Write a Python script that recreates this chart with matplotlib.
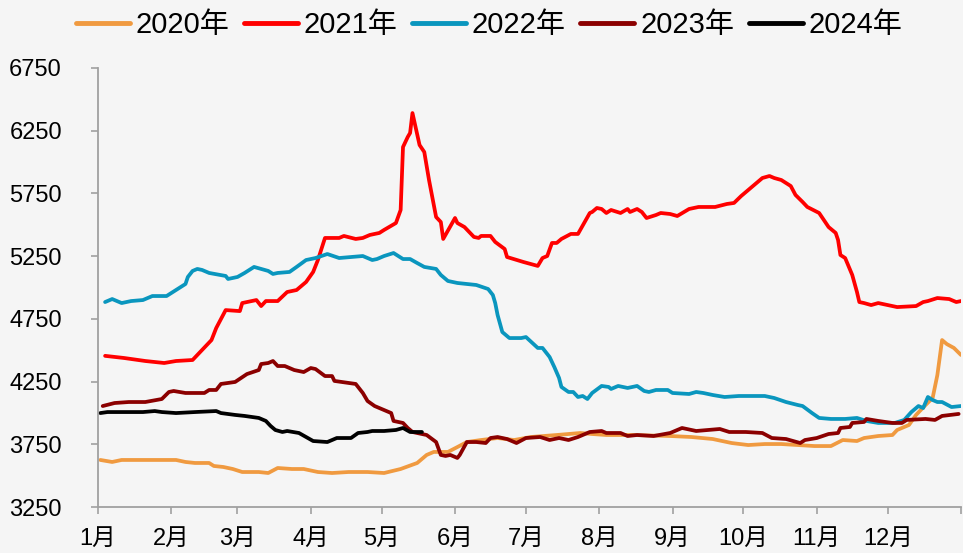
import matplotlib
matplotlib.use("Agg")
import matplotlib.pyplot as plt

plt.rcParams['font.family'] = ['Liberation Sans', 'Noto Sans CJK SC', 'DejaVu Sans']

# ---- data (day of year, price) ----
month_labels = ['1月', '2月', '3月', '4月', '5月', '6月', '7月', '8月', '9月', '10月', '11月', '12月']
month_starts = [0, 31, 59, 90, 120, 151, 181, 212, 243, 273, 304, 334, 365]
y_ticks = [3250, 3750, 4250, 4750, 5250, 5750, 6250, 6750]
series_names = ['2020年', '2021年', '2022年', '2023年', '2024年']

d20 = [1, 6, 10, 27, 33, 37, 41, 47, 49, 53, 57, 61, 68, 72, 76, 82, 87, 93, 99, 106,
       114, 121, 128, 135, 139, 142, 148, 152, 156, 162, 169, 176, 183, 194, 204, 209, 215, 226, 242, 251,
       260, 268, 275, 282, 289, 296, 303, 310, 315, 321, 324, 330, 336, 338, 343, 346, 350, 353, 355, 357,
       359, 362, 365]
v20 = [3625, 3609, 3625, 3625, 3625, 3609, 3601, 3601, 3577, 3569, 3553, 3529, 3529, 3521, 3561, 3553, 3553, 3529, 3521, 3529,
       3529, 3521, 3553, 3601, 3665, 3689, 3689, 3728, 3768, 3784, 3800, 3784, 3808, 3824, 3840, 3832, 3824, 3824, 3816, 3808,
       3792, 3760, 3744, 3752, 3752, 3744, 3736, 3736, 3784, 3776, 3800, 3816, 3824, 3864, 3904, 3984, 4063, 4119, 4302, 4581,
       4549, 4518, 4462]

d21 = [3, 11, 20, 28, 33, 40, 48, 50, 54, 60, 61, 67, 69, 71, 76, 80, 84, 88, 91, 93,
       96, 102, 104, 109, 112, 115, 119, 121, 126, 128, 129, 131, 132, 133, 136, 138, 140, 143, 145, 146,
       151, 152, 155, 159, 161, 162, 166, 168, 172, 173, 180, 186, 188, 190, 192, 194, 196, 200, 203, 208,
       209, 211, 213, 215, 217, 221, 224, 225, 228, 230, 232, 236, 238, 242, 245, 250, 254, 261, 266, 269,
       272, 281, 284, 286, 289, 293, 295, 298, 300, 305, 307, 309, 312, 313, 314, 316, 319, 321, 322, 324,
       327, 330, 338, 346, 349, 351, 355, 360, 363, 365]
v21 = [4455, 4438, 4414, 4398, 4414, 4422, 4581, 4677, 4820, 4812, 4876, 4900, 4852, 4892, 4892, 4964, 4980, 5044, 5124, 5219,
       5395, 5395, 5411, 5387, 5395, 5419, 5435, 5459, 5514, 5618, 6120, 6200, 6232, 6391, 6136, 6080, 5857, 5562, 5522, 5387,
       5554, 5514, 5482, 5403, 5395, 5411, 5411, 5363, 5307, 5243, 5203, 5172, 5235, 5251, 5355, 5355, 5387, 5427, 5427, 5594,
       5602, 5634, 5626, 5594, 5618, 5594, 5626, 5602, 5626, 5602, 5554, 5578, 5594, 5586, 5570, 5626, 5642, 5642, 5666, 5674,
       5729, 5873, 5889, 5873, 5857, 5809, 5738, 5682, 5642, 5594, 5538, 5482, 5435, 5379, 5259, 5235, 5100, 4964, 4884, 4876,
       4860, 4876, 4844, 4852, 4884, 4892, 4916, 4908, 4884, 4892]

d22 = [3, 6, 10, 14, 19, 23, 29, 37, 38, 40, 42, 44, 47, 54, 55, 59, 62, 66, 69, 72,
       74, 76, 81, 84, 88, 92, 97, 102, 107, 112, 116, 118, 121, 125, 129, 132, 135, 138, 143, 145,
       148, 152, 160, 165, 167, 168, 169, 171, 174, 179, 181, 186, 188, 191, 193, 195, 196, 199, 201, 203,
       205, 207, 209, 213, 216, 217, 220, 224, 228, 231, 233, 236, 241, 243, 250, 253, 256, 260, 265, 271,
       282, 286, 291, 296, 298, 302, 305, 310, 316, 321, 325, 330, 337, 341, 344, 347, 349, 351, 353, 355,
       357, 361, 365]
v22 = [4884, 4908, 4876, 4892, 4900, 4932, 4932, 5028, 5084, 5132, 5148, 5140, 5116, 5092, 5068, 5084, 5116, 5164, 5148, 5132,
       5108, 5116, 5124, 5164, 5219, 5235, 5267, 5235, 5243, 5251, 5219, 5227, 5251, 5275, 5227, 5227, 5195, 5164, 5148, 5100,
       5052, 5036, 5020, 4988, 4940, 4876, 4781, 4645, 4597, 4597, 4605, 4518, 4518, 4446, 4366, 4279, 4207, 4167, 4167, 4127,
       4135, 4111, 4159, 4215, 4207, 4191, 4215, 4199, 4215, 4175, 4167, 4183, 4183, 4159, 4151, 4167, 4159, 4143, 4127, 4135,
       4135, 4119, 4087, 4063, 4055, 3999, 3960, 3952, 3952, 3960, 3936, 3920, 3920, 3944, 4007, 4055, 4039, 4127, 4103, 4087,
       4087, 4047, 4055]

d23 = [2, 7, 13, 20, 27, 30, 32, 37, 45, 47, 50, 52, 58, 63, 68, 69, 72, 74, 76, 79,
       83, 87, 90, 92, 96, 99, 100, 106, 109, 112, 114, 117, 121, 124, 125, 129, 131, 133, 139, 143,
       145, 147, 149, 152, 153, 156, 160, 164, 166, 169, 173, 177, 181, 187, 191, 195, 199, 203, 206, 208,
       213, 215, 221, 224, 228, 235, 242, 247, 253, 258, 263, 267, 274, 281, 285, 291, 294, 297, 299, 304,
       309, 313, 314, 318, 319, 324, 325, 330, 336, 340, 342, 350, 354, 357, 364]
v23 = [4055, 4079, 4087, 4087, 4111, 4167, 4175, 4159, 4159, 4183, 4183, 4231, 4247, 4310, 4342, 4390, 4398, 4414, 4374, 4374,
       4342, 4326, 4358, 4350, 4294, 4294, 4255, 4239, 4231, 4159, 4095, 4055, 4023, 3999, 3936, 3920, 3880, 3848, 3824, 3768,
       3665, 3657, 3665, 3641, 3665, 3768, 3768, 3760, 3800, 3808, 3792, 3760, 3800, 3808, 3784, 3800, 3784, 3808, 3832, 3848,
       3856, 3840, 3840, 3816, 3824, 3816, 3840, 3880, 3856, 3864, 3872, 3848, 3848, 3840, 3800, 3792, 3776, 3760, 3784, 3800,
       3832, 3840, 3880, 3888, 3920, 3928, 3952, 3936, 3920, 3920, 3944, 3952, 3944, 3976, 3992]

d24 = [1, 4, 10, 19, 24, 27, 33, 41, 50, 52, 58, 62, 68, 71, 73, 75, 78, 80, 85, 88,
       91, 97, 101, 107, 110, 114, 116, 121, 126, 129, 132, 137]
v24 = [3999, 4007, 4007, 4007, 4015, 4007, 3999, 4007, 4015, 3999, 3984, 3976, 3960, 3936, 3896, 3864, 3848, 3856, 3840, 3808,
       3776, 3768, 3800, 3800, 3840, 3848, 3856, 3856, 3864, 3880, 3848, 3848]

colors = ['#F09A40', '#FF0000', '#0A96BE', '#8B0000', '#000000']
bg = '#F5F5F5'

W, H = 963, 553
fig = plt.figure(figsize=(W / 100, H / 100), dpi=100, facecolor=bg)
ax = fig.add_axes([98 / W, (H - 507) / H, (961 - 98) / W, (507 - 68) / H], facecolor=bg)

for (d, v), name, c in zip([(d20, v20), (d21, v21), (d22, v22), (d23, v23), (d24, v24)], series_names, colors):
    ax.plot(d, v, color=c, lw=2.7, label=name, solid_joinstyle='round', solid_capstyle='round')

ax.set_xlim(0, 365)
ax.set_ylim(3250, 6750)
ax.set_yticks(y_ticks)
ax.set_yticklabels([str(t) for t in y_ticks])
ax.set_xticks(month_starts)
ax.set_xticklabels(month_labels + [''])

for s in ['top', 'right']:
    ax.spines[s].set_visible(False)
for s in ['left', 'bottom']:
    ax.spines[s].set_color('#A0A0A0')
    ax.spines[s].set_linewidth(1.3)

ax.tick_params(axis='y', direction='out', length=5, width=1.2, color='#A0A0A0',
               labelsize=17, pad=21, labelcolor='black')
ax.tick_params(axis='x', direction='out', length=5, width=1.2, color='#A0A0A0',
               labelsize=17, pad=10, labelcolor='black')

handles, labels = ax.get_legend_handles_labels()
leg = fig.legend(handles, labels, loc='center', bbox_to_anchor=(489 / W, 1 - 25 / H), ncol=5,
                 frameon=False, fontsize=21, handlelength=1.85, handletextpad=0.2, columnspacing=0.5)
for lh in leg.get_lines():
    lh.set_linewidth(3.5)

fig.savefig('out.png', dpi=100, facecolor=bg)
